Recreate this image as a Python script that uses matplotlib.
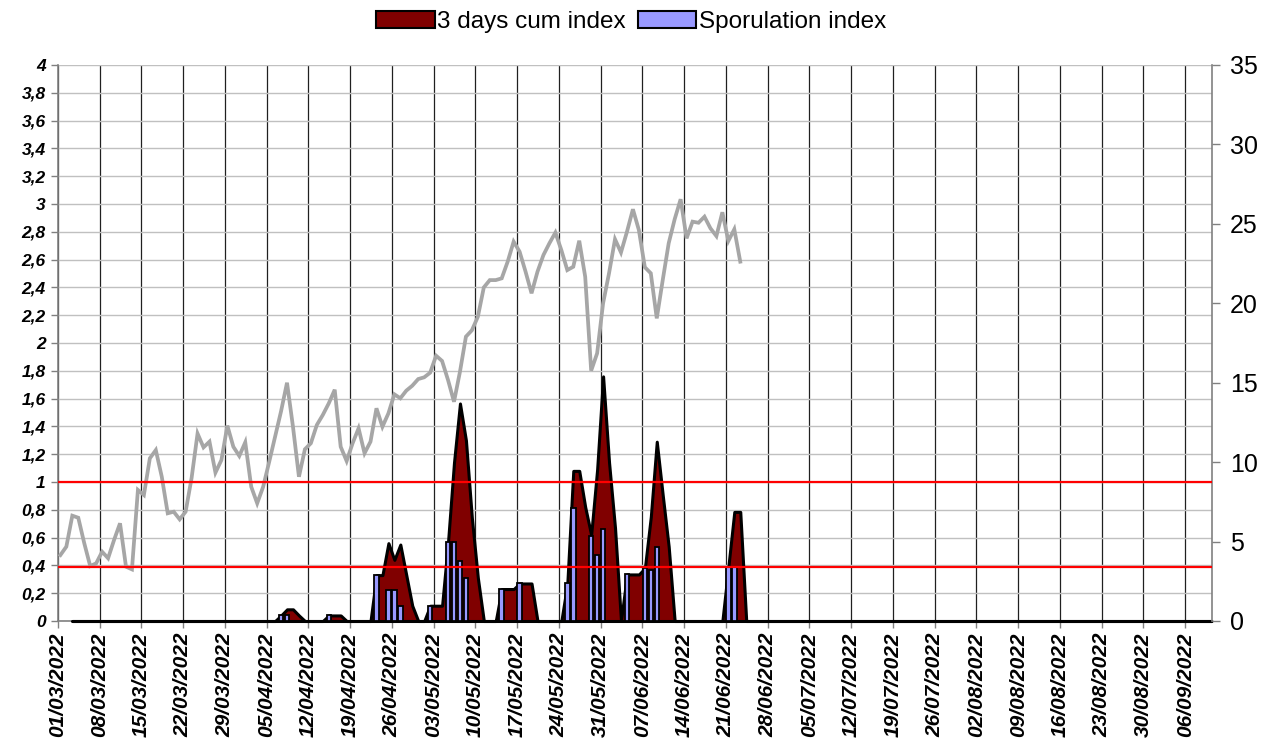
import datetime as dt
import numpy as np
import matplotlib
matplotlib.use("Agg")
import matplotlib.pyplot as plt
import matplotlib.transforms as mtransforms
from matplotlib.patches import Patch

# ---------------- data ----------------
start_date = dt.date(2022, 3, 1)
n_days = 194

# gray line (secondary axis), daily values from 01/03/2022
temp_values = [
    4.15, 4.68, 6.63, 6.5, 4.9, 3.46, 3.63, 4.36, 3.95, 5.1,
    6.15, 3.42, 3.25, 8.25, 7.93, 10.24, 10.76, 9.08, 6.78, 6.88,
    6.4, 6.88, 9.0, 11.8, 10.93, 11.29, 9.34, 10.13, 12.3, 10.97,
    10.39, 11.25, 8.45, 7.41, 8.45, 10.0, 11.6, 13.2, 15.0, 12.23,
    9.08, 10.81, 11.19, 12.34, 12.97, 13.7, 14.56, 10.97, 10.07, 11.19,
    12.13, 10.56, 11.29, 13.39, 12.23, 13.07, 14.27, 14.02, 14.5, 14.81,
    15.23, 15.34, 15.63, 16.7, 16.37, 15.17, 13.8, 15.69, 17.9, 18.3,
    19.15, 21.0, 21.46, 21.46, 21.57, 22.62, 23.88, 23.25, 21.99, 20.63,
    21.99, 23.04, 23.78, 24.45, 23.35, 22.09, 22.3, 23.94, 21.67, 15.76,
    16.85, 20.0, 21.9, 24.03, 23.2, 24.5, 25.92, 24.61, 22.27, 21.89,
    19.05, 21.46, 23.78, 25.29, 26.55, 24.09, 25.14, 25.07, 25.45, 24.72,
    24.23, 25.73, 23.92, 24.66, 22.62,
]

# Sporulation index (non-zero days, day index from 01/03/2022)
spor_days = [37, 38, 45, 53, 55, 56, 57, 62, 65, 66, 67, 68, 74, 77,
             85, 86, 89, 90, 91, 95, 98, 99, 100, 112, 113]
spor_values = [0.04, 0.04, 0.04, 0.33, 0.22, 0.22, 0.11, 0.11, 0.57, 0.57,
               0.43, 0.31, 0.23, 0.27, 0.27, 0.815, 0.61, 0.475, 0.665,
               0.335, 0.38, 0.37, 0.535, 0.39, 0.39]

# 3 days cum index (non-zero days); series runs from day 2 to the end
cum_first_day = 2
cum_days = [37, 38, 39, 40, 45, 46, 47, 53, 54, 55, 56, 57, 58, 59,
            62, 63, 64, 65, 66, 67, 68, 69, 70, 74, 75, 76, 77, 78, 79,
            85, 86, 87, 88, 89, 90, 91, 92, 93, 95, 96, 97, 98, 99, 100,
            101, 102, 112, 113, 114]
cum_values = [0.04, 0.084, 0.084, 0.04, 0.04, 0.04, 0.04, 0.33, 0.33, 0.56,
              0.44, 0.55, 0.33, 0.11, 0.11, 0.11, 0.11, 0.57, 1.14, 1.565,
              1.3, 0.74, 0.31, 0.23, 0.23, 0.23, 0.27, 0.27, 0.27, 0.27,
              1.08, 1.08, 0.82, 0.62, 1.09, 1.76, 1.14, 0.67, 0.335, 0.335,
              0.335, 0.38, 0.75, 1.29, 0.905, 0.535, 0.39, 0.785, 0.785]

thresholds = [1.0, 0.39]

# ---------------- build series ----------------
offset = 0.4
days = np.arange(n_days)
pos = days + offset

spor_full = np.zeros(n_days)
spor_full[spor_days] = spor_values
cum_full = np.zeros(n_days)
cum_full[cum_days] = cum_values

# ---------------- figure ----------------
W, H = 1284, 741
fig = plt.figure(figsize=(W / 100, H / 100), dpi=100)
ax = fig.add_axes([58 / W, 1 - 621 / H, (1212 - 58) / W, (621 - 65) / H])
ax2 = ax.twinx()

FONT = "Liberation Sans"

ax.set_xlim(0, 193.5)
ax.set_ylim(0, 4)
ax2.set_ylim(0, 35)

# area
ax.fill_between(pos[cum_first_day:], cum_full[cum_first_day:], 0,
                facecolor="#800000", edgecolor="black", linewidth=2.2,
                zorder=3, clip_on=False)
# bars
mask = spor_full > 0
ax.bar(pos[mask], spor_full[mask], width=0.75, color="#9999ff",
       edgecolor="black", linewidth=1.3, zorder=4)

# gray line
ax2.plot(pos[:len(temp_values)], temp_values, color="#a6a6a6",
         linewidth=2.7, zorder=3, solid_joinstyle="miter")

# threshold lines (left axis values mapped to right axis scale)
scale = 35 / 4
for t in thresholds:
    ax2.axhline(t * scale, color="#ff0000", linewidth=1.6, zorder=4)

# grid
yt = np.round(np.arange(0, 4.0001, 0.2), 1)
ax.set_yticks(yt)
ax.set_yticklabels([("%g" % v).replace(".", ",") for v in yt],
                   fontfamily=FONT, fontweight="bold", fontstyle="italic",
                   fontsize=12.5)
ax.yaxis.grid(True, color="#c0c0c0", linewidth=1.0)

xt = np.arange(0, 190, 7)
ax.set_xticks(xt)
ax.set_xticklabels([(start_date + dt.timedelta(days=int(d))).strftime("%d/%m/%Y")
                    for d in xt], rotation=90, fontfamily=FONT,
                   fontweight="bold", fontstyle="italic", fontsize=15,
                   ha="center", va="top")
ax.xaxis.grid(True, color="#202020", linewidth=0.9)
ax.set_axisbelow(True)

shift = mtransforms.ScaledTranslation(3 / 100, 0, fig.dpi_scale_trans)
for lab in ax.get_xticklabels():
    lab.set_transform(lab.get_transform() + shift)

ax2.set_yticks(np.arange(0, 36, 5))
ax2.set_yticklabels([str(v) for v in range(0, 36, 5)], fontfamily=FONT,
                    fontsize=18)

ax.tick_params(axis="y", length=5, width=1, color="#808080", pad=4)
ax.tick_params(axis="x", length=5, width=1, color="#808080", pad=3)
ax2.tick_params(axis="y", length=6, width=1, color="#808080", pad=7)

# spines: ax keeps left/bottom, ax2 keeps only right
ax.spines["top"].set_visible(False)
ax.spines["right"].set_visible(False)
for s in ("left", "bottom"):
    ax.spines[s].set_color("#808080")
    ax.spines[s].set_linewidth(1.2)
for s in ("top", "left", "bottom"):
    ax2.spines[s].set_visible(False)
ax2.spines["right"].set_color("#808080")
ax2.spines["right"].set_linewidth(1.2)

# legend
handles = [Patch(facecolor="#800000", edgecolor="black", linewidth=1.5),
           Patch(facecolor="#9999ff", edgecolor="black", linewidth=1.5)]
fig.legend(handles, ["3 days cum index", "Sporulation index"],
           loc="center", bbox_to_anchor=(631 / W, 1 - 22 / H), ncol=2,
           frameon=False, prop={"family": FONT, "size": 17.5},
           handlelength=2.4, handleheight=0.7, handletextpad=0.1,
           columnspacing=0.5)

fig.savefig("out.png", dpi=100)
